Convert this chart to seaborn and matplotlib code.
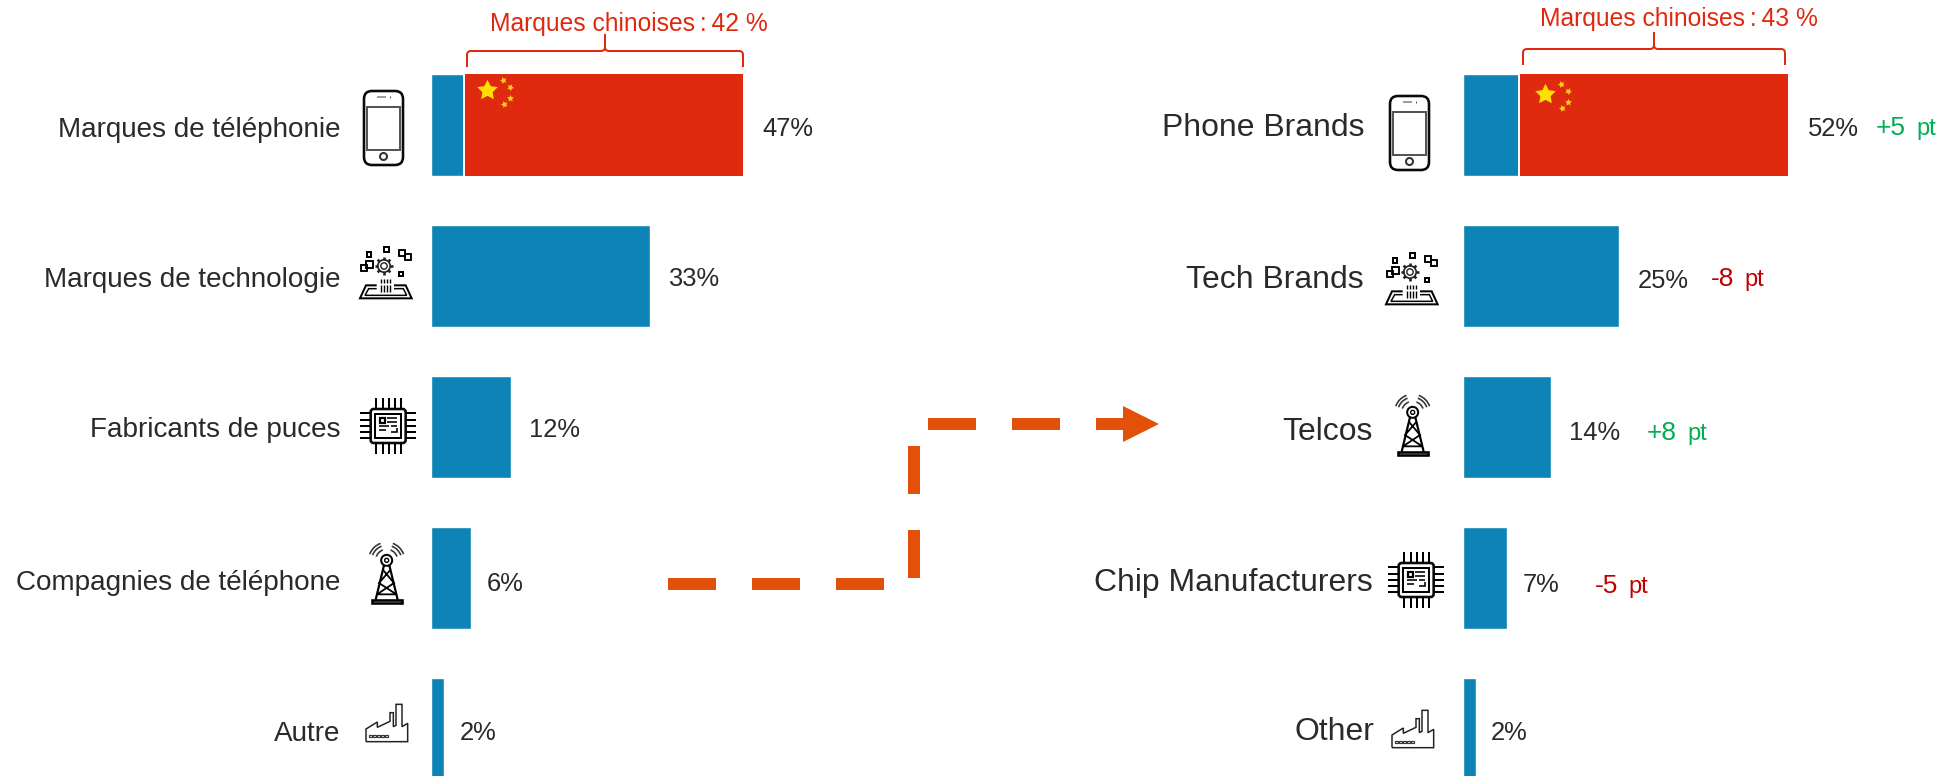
import numpy as np
import pandas as pd
import seaborn as sns
import matplotlib
matplotlib.use("Agg")
import matplotlib.pyplot as plt
from matplotlib.patches import Polygon, Circle, Rectangle, FancyBboxPatch, Arc
from matplotlib.path import Path
from matplotlib.patches import PathPatch
from matplotlib.transforms import ScaledTranslation

# ---- data ----
cats_fr = ["Marques de téléphonie", "Marques de technologie", "Fabricants de puces",
           "Compagnies de téléphone", "Autre"]
vals_fr = [47, 33, 12, 6, 2]
cats_en = ["Phone Brands", "Tech Brands", "Telcos", "Chip Manufacturers", "Other"]
vals_en = [52, 25, 14, 7, 2]
chinese_fr = 42
chinese_en = 43
brace_fr = "Marques chinoises\u2009:\u200942 %"
brace_en = "Marques chinoises\u2009:\u200943 %"
delta_main = ["+5", "-8", "+8", "-5"]
delta_unit = "pt"

# ---- style ----
BLUE = "#0E83B5"
RED = "#E02A0F"
BRACE = "#E0280F"
ORANGE = "#E3500A"
GREEN = "#00B050"
DKRED = "#C00000"
INK = "#2A2A2A"
YEL = "#FFE000"

sns.set_theme(style="white")
plt.rcParams["font.family"] = ["Liberation Sans", "DejaVu Sans"]
plt.rcParams["lines.scale_dashes"] = False

W, H = 1944, 776
fig = plt.figure(figsize=(W / 100, H / 100), dpi=100, facecolor="white")
PX = 0.72  # points per pixel


def panel(x0, x1, scale):
    ax = fig.add_axes([x0 / W, 0, (x1 - x0) / W, (H - 49.5) / H])
    ax.set_xlim(0, (x1 - x0) / scale)
    return ax


def draw_bars(ax, cats, vals, chinese, size, pad_px, dx, dy, lab_pads, lab_dy):
    df = pd.DataFrame({"cat": cats, "val": vals})
    sns.barplot(df, x="val", y="cat", color=BLUE, saturation=1, width=0.675, ax=ax)
    other = vals[0] - chinese
    ax.barh(0, chinese, left=other, height=0.675, color=RED, linewidth=0)
    ax.plot([other, other], [-0.3375, 0.3375], color="white", lw=2 * PX, solid_capstyle="butt")
    ax.set_ylim(4 + 47 / 151, -0.5)
    ax.set_xlabel("")
    ax.set_ylabel("")
    ax.tick_params(axis="y", length=0, pad=pad_px * PX, labelsize=size, labelcolor=INK)
    ax.set_xticks([])
    sns.despine(ax=ax, left=True, bottom=True)
    for lab, ox, oy in zip(ax.get_yticklabels(), dx, dy):
        lab.set_transform(lab.get_transform() + ScaledTranslation(ox * PX / 72, -oy * PX / 72, fig.dpi_scale_trans))
    for v, i, p, o in zip(vals, range(5), lab_pads, lab_dy):
        ax.annotate(f"{v}%", (v, i), xytext=(p * PX, -o * PX), textcoords="offset points",
                    va="center", ha="left", fontsize=18.4, color=INK)


axL = panel(431, 880, 6.64)
draw_bars(axL, cats_fr, vals_fr, chinese_fr, 20.1, 91, [0] * 5, [2, 1, 0, 2, 2], [19, 18, 18, 16, 15],
          [4.5, 3.2, 3.2, 5.7, 4.5])
axR = panel(1463, 1944, 6.25)
draw_bars(axR, cats_en, vals_en, chinese_en, 22.95, 99, [0, 0, 9, 9, 10], [0, 0, 2, 2, 0], [20, 18, 18, 16, 15],
          [4.5, 4.5, 5.7, 7, 4.5])

# overlay in pixel coordinates for decoration
ov = fig.add_axes([0, 0, 1, 1])
ov.set_xlim(0, W)
ov.set_ylim(H, 0)
ov.axis("off")
ov.patch.set_alpha(0)


def stars(ox, oy):
    ov.scatter([ox + 487], [oy + 90], marker=(5, 1, 0), s=240, color=YEL, linewidths=0, zorder=5)
    for x, y, r in [(503, 80, 20), (510, 87, 45), (510, 97.5, 0), (503.5, 104, 20)]:
        ov.scatter([ox + x], [oy + y], marker=(5, 1, r), s=26, color="#FFD21A", linewidths=0, zorder=5)


stars(0, 0)
stars(1058, 4)


def brace(x0, x1, xm, ytop, ybot, ytip):
    r = 4
    verts = [(x0, ybot), (x0, ytop + r), (x0, ytop), (x0 + r, ytop), (xm - r, ytop), (xm, ytop), (xm, ytop - r),
             (xm, ytip), (xm, ytop - r), (xm, ytop), (xm + r, ytop), (x1 - r, ytop), (x1, ytop), (x1, ytop + r), (x1, ybot)]
    codes = [Path.MOVETO, Path.LINETO, Path.CURVE3, Path.CURVE3, Path.LINETO, Path.CURVE3, Path.CURVE3,
             Path.LINETO, Path.LINETO, Path.CURVE3, Path.CURVE3, Path.LINETO, Path.CURVE3, Path.CURVE3, Path.LINETO]
    ov.add_patch(PathPatch(Path(verts, codes), fill=False, edgecolor=BRACE, lw=2 * PX))


brace(467, 743, 605, 51, 67, 34)
ov.text(629, 31, brace_fr, color=BRACE, fontsize=17.7, ha="center", va="baseline")
brace(1523, 1785, 1654, 49, 65, 32)
ov.text(1679, 26, brace_en, color=BRACE, fontsize=17.7, ha="center", va="baseline")

# delta annotations
delta_pos = [(1876, 135), (1711, 286), (1647, 440), (1595, 593)]
for txt, (x, y) in zip(delta_main, delta_pos):
    col = GREEN if txt.startswith("+") else DKRED
    t = ov.text(x, y, txt, color=col, fontsize=19, ha="left", va="baseline")
    fig.canvas.draw()
    bb = t.get_window_extent()
    ov.text(x + bb.width + 10, y, delta_unit, color=col, fontsize=17, ha="left", va="baseline")

# dashed elbow arrow
ov.plot([668, 913.7, 913.7, 1123], [583.5, 583.5, 424, 424], color=ORANGE, lw=12 * PX,
        dashes=(48 * PX, 36 * PX), dash_capstyle="butt", dash_joinstyle="miter")
ov.add_patch(Polygon([(1123, 406), (1159, 424), (1123, 442)], closed=True, color=ORANGE, lw=0))

# ---- icons ----


def line(pts, lw=1.6, c="black", close=False):
    xs, ys = zip(*pts)
    if close:
        xs += (xs[0],)
        ys += (ys[0],)
    ov.plot(xs, ys, color=c, lw=lw * PX, solid_capstyle="butt", solid_joinstyle="miter")


def maker(ox, oy, x0, y0):
    return lambda x, y: (ox + (x - x0) / 3, oy + (y - y0) / 3)


def box(T, x, y, w, h, lw=1.6, c="black"):
    a = T(x, y)
    b = T(x + w, y + h)
    ov.add_patch(Rectangle(a, b[0] - a[0], b[1] - a[1], fill=False, edgecolor=c, lw=lw * PX))


def phone(ox, oy):
    ov.add_patch(FancyBboxPatch((ox + 5, oy + 5), 31, 66, boxstyle="round,pad=4,rounding_size=8",
                                fill=False, edgecolor="#0A0A0A", lw=2.6 * PX, mutation_aspect=1))
    ov.add_patch(Rectangle((ox + 4, oy + 16.5), 33, 43, fill=False, edgecolor="#555555", lw=2.0 * PX))
    ov.add_patch(Circle((ox + 20.5, oy + 66.5), 3.5, fill=False, edgecolor="#333333", lw=2.0 * PX))
    line([(ox + 14, oy + 6.5), (ox + 23, oy + 6.5)], lw=1.6, c="#888888")
    line([(ox + 27, oy + 5.5), (ox + 27, oy + 7.5)], lw=1.0, c="#555555")


def tech(ox, oy):
    T = maker(ox, oy, 60, 108)
    for x, y, s in [(80, 127, 14), (131, 111, 15), (177, 185, 12)]:
        box(T, x, y, s, s, 2.0)
    box(T, 78, 153, 20, 20, 1.9)
    box(T, 64, 166, 16, 16, 1.9)
    box(T, 178, 120, 18, 18, 1.9)
    box(T, 195, 132, 17, 18, 1.9)
    c = T(132, 168)
    ov.add_patch(Circle(c, 6.2, fill=False, edgecolor="#222222", lw=1.7 * PX))
    ov.add_patch(Circle(c, 3.2, fill=False, edgecolor="#222222", lw=1.4 * PX))
    for a in np.deg2rad(np.arange(0, 360, 45)):
        line([(c[0] + 6 * np.cos(a), c[1] + 6 * np.sin(a)), (c[0] + 9 * np.cos(a), c[1] + 9 * np.sin(a))], 2.6, "#222222")
    line([T(110, 226), T(78, 226), T(60, 265), T(215, 265), T(197, 226), T(162, 226)], 2.0)
    line([T(110, 236), T(86, 236), T(75, 256), T(200, 256), T(190, 236), T(162, 236)], 1.5)
    for x in [122, 131, 140, 150]:
        line([T(x, 206), T(x, 218)], 1.4)
        line([T(x, 224), T(x, 245)], 1.4)


def chip(ox, oy):
    T = maker(ox, oy, 60, 565)
    a = T(92, 598)
    ov.add_patch(FancyBboxPatch((a[0] + 3, a[1] + 3), 29, 28, boxstyle="round,pad=3,rounding_size=3",
                                fill=False, edgecolor="#0A0A0A", lw=2.6 * PX))
    box(T, 106, 612, 76, 74, 2.0)
    for p in [108, 128, 146, 164, 182]:
        line([T(p, 565), T(p, 598)], 2.0)
        line([T(p, 698), T(p, 732)], 2.0)
    for p in [610, 630, 650, 668, 686]:
        line([T(60, p), T(92, p)], 2.0)
        line([T(196, p), T(228, p)], 2.0)
    box(T, 120, 625, 14, 14, 2.2)
    for (x0, x1, y) in [(142, 172, 624), (142, 172, 636), (118, 146, 650), (118, 138, 662), (152, 172, 648)]:
        line([T(x0, y), T(x1, y)], 1.6)
    line([T(172, 656), T(172, 668), T(152, 668)], 1.6)


def tower(ox, oy):
    T = maker(ox, oy, 88, 83)
    box(T, 96, 238, 90, 10, 2.6)
    line([T(108, 238), T(133, 135)], 2.2)
    line([T(174, 238), T(149, 135)], 2.2)
    line([T(131, 150), T(163, 188), T(112, 222), T(170, 222), T(118, 188), T(151, 150)], 1.8)
    c = T(141, 120)
    ov.add_patch(Circle(c, 5.5, fill=False, edgecolor="black", lw=2.0 * PX))
    ov.add_patch(Circle(c, 2.0, fill=False, edgecolor="black", lw=1.4 * PX))
    for r in [11, 15, 18]:
        for th1, th2 in [(200, 250), (290, 340)]:
            ov.add_patch(Arc(c, 2 * r, 2 * r, theta1=th1, theta2=th2, edgecolor="#333333", lw=1.6 * PX))


def factory(ox, oy):
    T = maker(ox, oy, 78, 552)
    line([T(78, 665), T(78, 627), T(112, 606), T(112, 622), T(150, 604), T(150, 578), T(160, 578), T(160, 620),
          T(168, 616), T(168, 553), T(186, 553), T(186, 620), T(203, 610), T(203, 665)], 1.5, "#222222", close=True)
    for x in [88, 100, 112, 124, 136]:
        box(T, x, 644, 8, 8, 1.2, "#333333")


phone(363, 90)
phone(1389, 95)
tech(360, 246)
tech(1386, 252)
chip(360, 398)
chip(1388, 552)
tower(369, 548)
tower(1395, 400)
factory(366, 704)
factory(1392, 710)

fig.savefig("out.png", dpi=100, facecolor="white")
